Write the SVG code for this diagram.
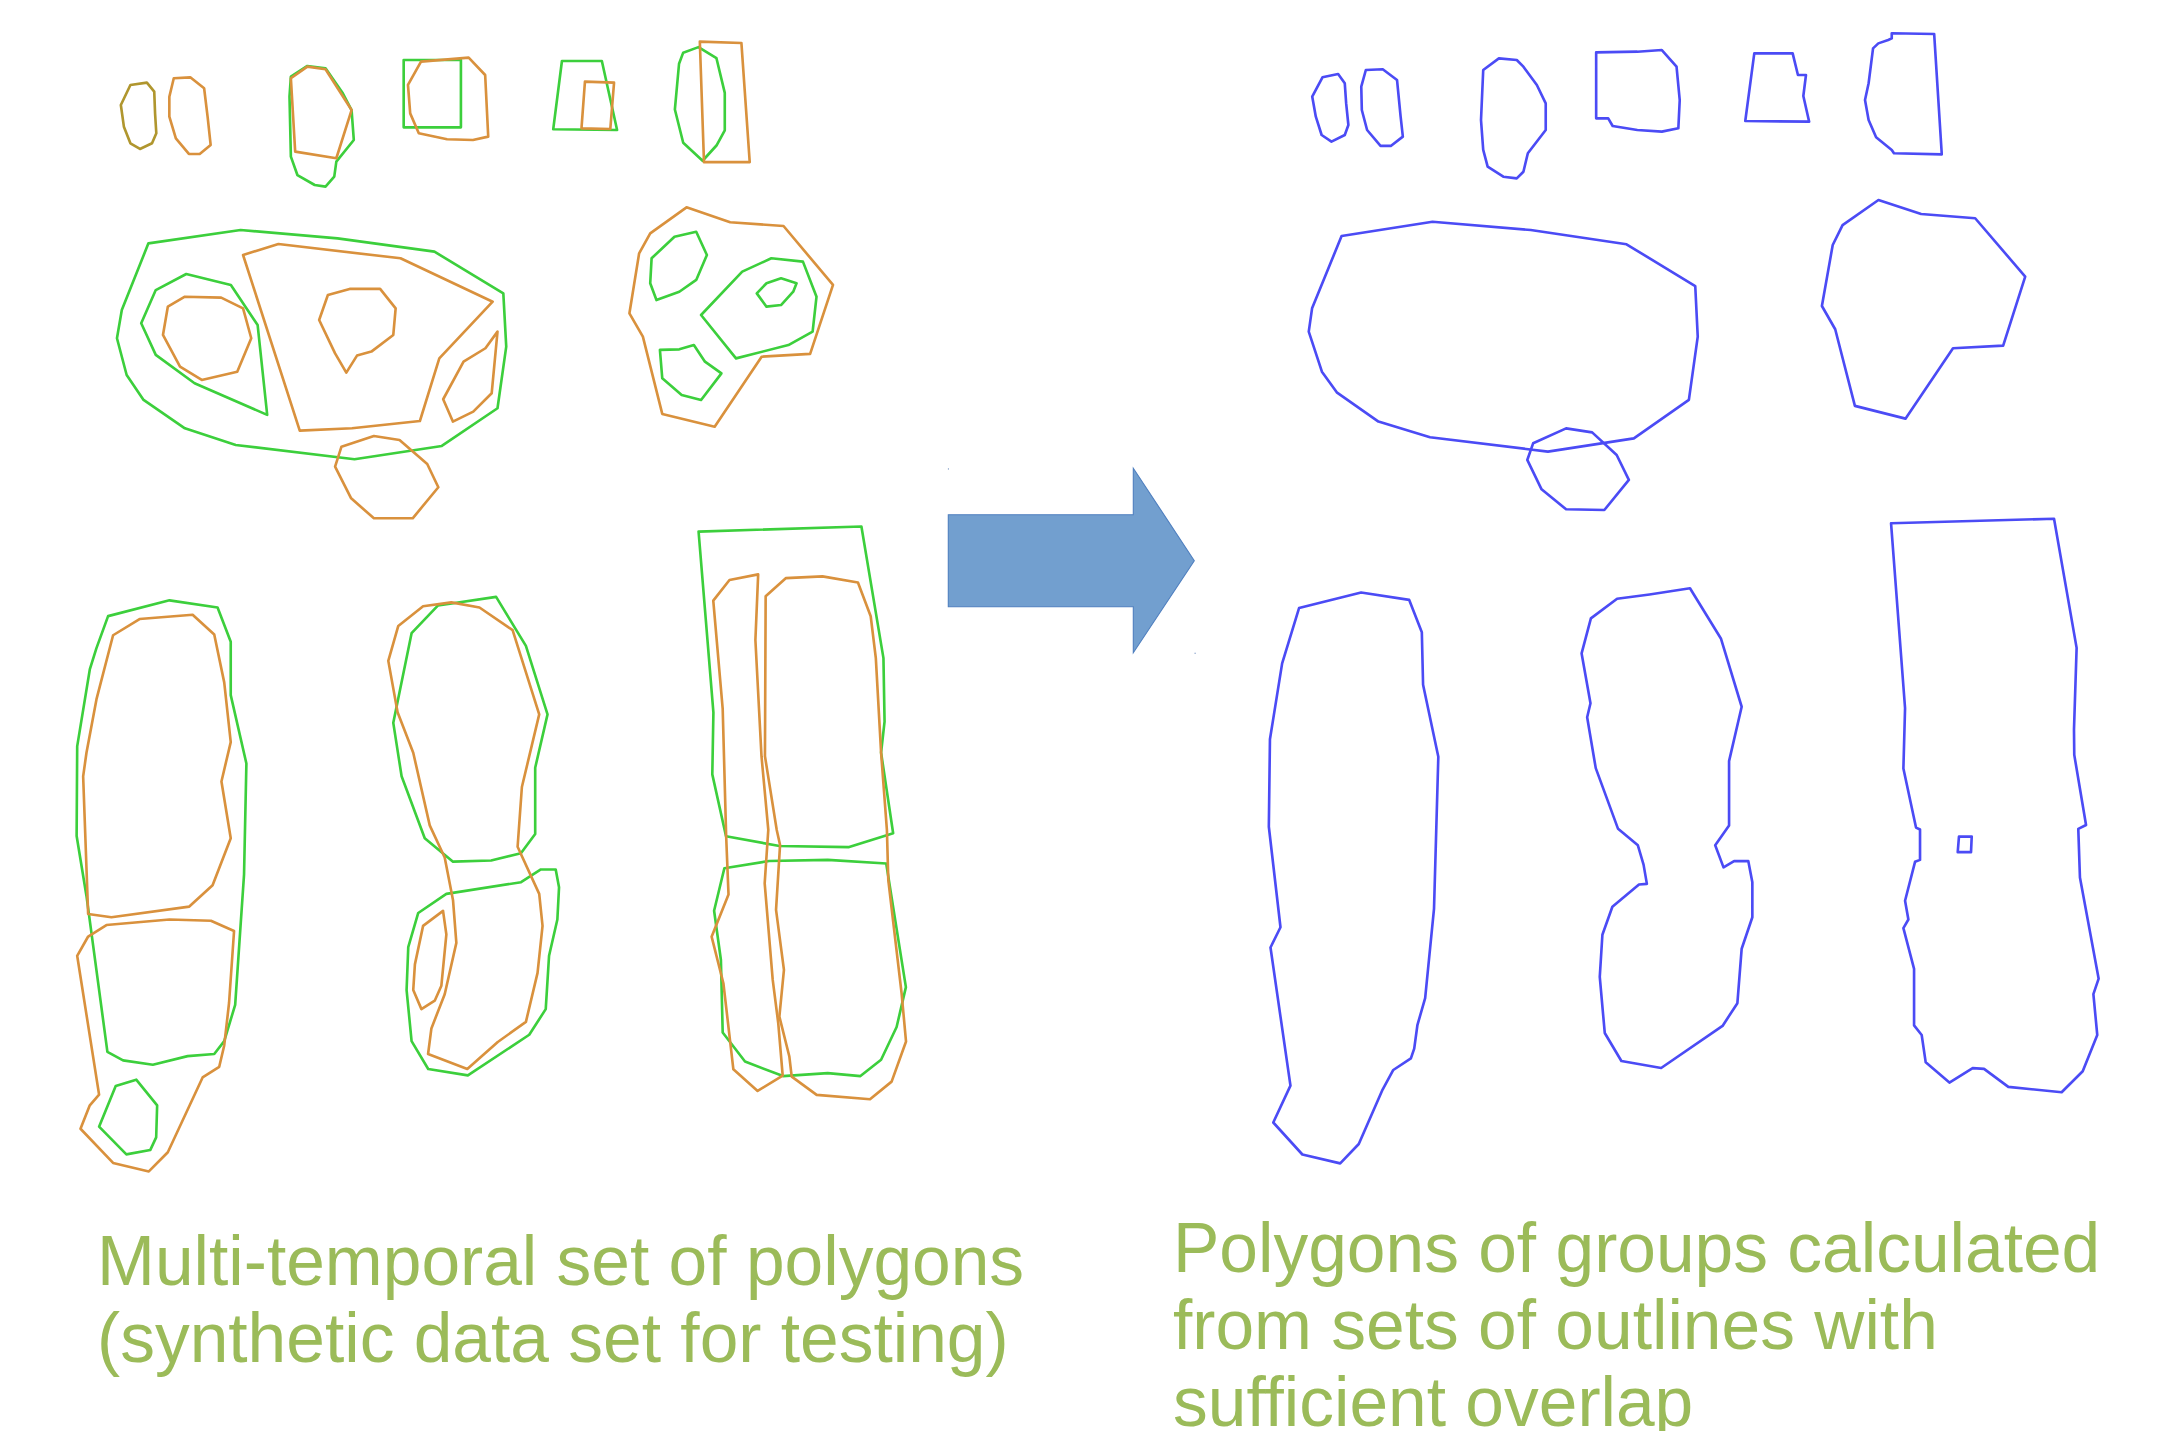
<svg xmlns="http://www.w3.org/2000/svg" width="2173" height="1431" viewBox="0 0 2173 1431">
<style>
.g{fill:none;stroke:#3ccf3c;stroke-width:1.9;stroke-linejoin:round}
.o{fill:none;stroke:#d9913d;stroke-width:1.9;stroke-linejoin:round}
.ol{fill:none;stroke:#b0962e;stroke-width:1.9;stroke-linejoin:round}
.b{fill:none;stroke:#4b4bf5;stroke-width:1.9;stroke-linejoin:round}
.t{font-family:"Liberation Sans",Arial,sans-serif;font-size:69.5px;fill:#9bbb59}
</style>
<rect width="2173" height="1431" fill="#ffffff"/>
<g transform="scale(1.3858)">
<g id="left-top-1"><polygon class="ol" points="94.1,61.3 106,59.6 111.3,66.1 111.9,81.8 112.8,96.2 109.7,103.4 101,107.5 94.1,103.4 89.4,91.4 87.2,75.8"/></g>
<g id="left-top-2"><polygon class="o" points="125.4,56.5 137.3,55.8 147.3,63.7 149.8,84.2 152,104.6 144.1,111.1 136.3,111.1 126.9,99.8 122.2,84.2 122.2,69.8"/></g>
<g id="left-top-3">
<polygon class="g" points="209.9,55.3 221.8,47.6 234.9,49.3 247.4,67.3 253.7,79.4 255.3,101 242.7,116.6 241.2,127.5 234.9,134.7 227.1,133.5 214.6,126.3 209.9,113 208.9,69.7"/>
<polygon class="o" points="209.9,56.5 221.8,48.1 234.9,50 253.7,79.4 242.7,114.2 213,109.4"/>
</g>
<g id="left-top-4">
<polygon class="g" points="291.3,43.3 332.6,43.3 332.6,91.9 291.3,91.9"/>
<polygon class="o" points="303.8,44.5 338.2,41.6 350.1,54.1 352.3,98.6 341.3,101 322.6,100.5 302.2,96.2 296,81.8 294.4,61.3"/>
</g>
<g id="left-top-5">
<polygon class="g" points="405.5,44 434.3,44 445.3,93.8 399.2,93.3"/>
<polygon class="o" points="422.1,58.9 443.1,59.6 440.4,93.1 419.6,92.6"/>
</g>
<g id="left-top-6">
<polygon class="g" points="493,38 504,34 517,42 523,67 523,94 517,105 507,116 493,103 487,79 490,46"/>
<polygon class="o" points="505,30 535,31 541,117 508,117"/>
</g>
<g id="left-mid-1">
<polygon class="g" points="107.1,175.6 173.6,166 243.6,172 313.5,181.6 363.2,211.7 365.3,250.1 359,294.6 318.8,321.8 255.8,331.4 170.1,321.1 133.4,309.1 103.6,288.6 91.4,270.6 84.4,244.1 87.9,223.7"/>
<polygon class="g" points="134.4,197.7 166.6,205.6 185.9,234.5 192.8,299.4 140.4,276.6 112.4,256.1 101.9,233.3 112.4,209.3"/>
<polygon class="o" points="133.4,214.1 159.6,214.8 175.4,222.5 181.3,244.1 171.2,268.2 145.6,274.2 129.9,264.6 117.6,241.7 121.1,221.3"/>
<polygon class="o" points="175.4,184 200.9,176.1 289,186.4 355.5,217.7 317,258.6 303,303.8 254,309 216.3,310.7"/>
<polygon class="o" points="236.6,212.9 252.3,208.5 274.3,208.5 285.5,222.5 283.8,241.7 268,253.7 257.6,256.6 249.9,268.9 241.8,255 230.3,230.9"/>
<polygon class="o" points="359,239.3 354.8,283.8 341.5,297 326.8,304.2 319.8,288.1 334.5,261 350.3,251.3"/>
<polygon class="o" points="246.4,322.3 269.8,314.6 288.3,317.5 308.3,334.8 316.3,351.6 297.8,374 269.8,374 253.4,359.6 241.8,336.7"/>
</g>
<g id="left-mid-2">
<polygon class="o" points="495.4,149.6 526.9,160.4 565.4,163.1 601.1,205.6 584.6,255.4 549.6,257.4 515.7,307.9 477.9,298.7 463.9,242.9 454.2,226.1 461.2,182.8 469.2,168.4"/>
<polygon class="g" points="486.7,170.8 502.4,167.2 510.1,184 502.4,202 490.2,210.5 473.7,216.5 469.2,204.4 470.2,186.4"/>
<polygon class="g" points="505.9,227.3 535.6,196 556.6,186.4 579.4,188.8 589.2,214.1 586.4,239.3 568.9,249 531.1,258.6"/>
<polygon class="g" points="553.1,204.4 563.6,200.8 574.8,204.4 572.4,210.5 563.6,220.1 553.1,221.3 546.1,211.7"/>
<polygon class="g" points="476.2,252.5 490.2,252.1 500.7,249 508.7,261 520.6,269.4 505.9,288.6 491.9,285 477.9,273"/>
</g>
<g id="left-bottom-1">
<polygon class="g" points="78,444.6 122.3,433.2 157,438.4 166.5,463.1 166.5,501.6 177.8,550.9 176.1,631.1 169.7,725.1 161.8,751.3 154.6,760.6 135.4,762.1 110.3,768.3 88.8,765.2 77.5,759 62.4,646.5 55.3,603.3 55.7,538.6 64.8,483.1 69.6,467.7"/>
<polygon class="o" points="81.6,458.4 100.7,446.7 139,443.6 154.6,457.8 161.8,492.4 166.5,535.5 159.8,563.9 166.5,604.9 153.4,638.8 136.6,654.2 80.4,661.9 63.6,659.5 60,560.2 62.4,543.2 69.6,504.7"/>
<polygon class="o" points="76.8,667.5 122.3,663.5 152.2,664.4 168.9,671.8 165.3,723.6 161.8,754.4 158.2,769.8 146.2,777.5 121.1,831.5 107.4,845.3 81.6,839.2 58.1,814.5 64.8,797.6 71.5,789.9 55.7,689.7 63.6,675.8"/>
<polygon class="g" points="83.5,783.7 98.3,779.1 113.4,797.6 112.7,820.7 108.4,829.9 91.2,833 71.5,813"/>
</g>
<g id="left-bottom-2">
<polygon class="g" points="297,456.9 316.1,436.9 358,430.7 379.5,466.1 395.1,515.5 386.2,554 386.2,601.8 375.9,615.7 354.4,620.9 326.9,621.8 306.5,604.9 289.8,560.2 283.8,521.6"/>
<polygon class="g" points="322.1,645 376,636.6 390.3,627.4 401,627.4 403.4,640.3 402.2,663.5 396.2,689.7 393.8,728.2 381.9,746.7 337.6,776 309,771.4 297,751.3 293.4,714.4 294.6,683.5 301.8,658.8"/>
<polygon class="o" points="287.4,451.7 305.3,437.5 325.7,434.7 346,438.4 369.9,454.7 389.1,515.5 376.6,567.9 373.5,611 389.1,645 391.5,668.1 387.9,702 379.5,737.4 359.2,751.9 337.2,771.4 308.9,760.6 311.3,742.1 320.9,717.4 329.3,680.4 326.9,649.6 320.9,618.8 310.1,595.6 298.2,543.2 286.9,513.9 280.2,476.9"/>
<polygon class="o" points="319.7,657.3 322.1,674.3 318.5,711.3 313.7,722.1 304.1,728.2 298.2,714.4 299.4,695.9 305.3,668.1"/>
</g>
<g id="left-bottom-3">
<polygon class="g" points="504.1,383.6 621.6,379.9 637.5,474.9 638.3,520.8 635.8,543.1 644.5,601.3 612.2,611.3 562.5,610.5 523.9,603.4 514,558.8 514.8,514.2"/>
<polygon class="g" points="522.7,626.5 555,621.3 597.3,620.5 639.5,623.1 653.7,712.3 647,741.1 635.8,764.7 620.9,776.5 597.3,774.4 565,776.5 537.6,766 521.5,745.1 520.2,692.6 515.3,657.2"/>
<polygon class="o" points="514.7,433.4 526.4,418.5 547.1,414.5 545.1,461.8 549.5,545.7 554.4,598.9 551.8,637.4 557.6,707.1 561.6,738.4 564.8,776.1 546.7,787.2 529.2,771.6 522,709.5 513.5,675.9 525.7,645.4 524,603.4 521.5,511.6"/>
<polygon class="o" points="552.5,430.3 567,417.2 593.5,415.9 619.1,420.3 628.3,444.7 632,474.9 635.8,543.1 640,599 641,635 650.6,716.8 653.8,751.6 643.4,780.5 627.8,793.2 589.3,790.1 571.3,776.9 569.6,762.4 562.4,733.6 565.7,699.9 560,656.6 562.9,609.7 560.5,598.9 552,545.7"/>
</g>
<g id="arrow">
<polygon points="684.3,371.4 817.8,371.4 817.8,337.9 861.8,404.6 817.8,471 817.8,437.8 684.3,437.8" fill="#729fcf" stroke="#4f7fbf" stroke-width="0.8"/>
<rect x="684" y="338" width="0.8" height="0.8" fill="#6f8fbf"/>
<rect x="862" y="471" width="0.8" height="0.8" fill="#6f8fbf"/>
</g>
<g id="right-top-1"><polygon class="b" points="954.3,55.8 965.6,53.4 970.4,60.1 971.4,74.6 973,90.2 970.4,97.4 960.8,102.2 953.7,97.4 949.5,84.2 946.9,69.7"/></g>
<g id="right-top-2"><polygon class="b" points="985.6,50.5 997.8,50 1008.1,57.7 1010.7,84.2 1012.3,98.6 1003.6,105.3 996.2,105.3 986.5,93.8 982.7,79.4 982.3,62.5"/></g>
<g id="right-top-3"><polygon class="b" points="1070.3,50.5 1081.6,42.1 1094.5,43.3 1099.3,48.1 1109,61.3 1115.4,74.6 1115.4,93.8 1102.5,110.6 1099.3,123.9 1094.5,128.7 1084.8,127.5 1073.5,120.2 1070.3,108.2 1068.7,86.6"/></g>
<g id="right-top-4"><polygon class="b" points="1151.8,37.8 1181.5,37.3 1199.2,36.1 1209.8,48.1 1212.1,72.2 1211.1,92.6 1199.2,95 1181.5,93.8 1163.7,90.9 1160.5,85.4 1151.8,85.4"/></g>
<g id="right-top-5"><polygon class="b" points="1265.9,38.5 1293.6,38.5 1297.4,54.1 1303.2,54.1 1301.3,69.3 1305.5,87.8 1259.4,87.3"/></g>
<g id="right-top-6"><polygon class="b" points="1365.1,24 1395.7,24.5 1401.2,111.4 1366.7,110.6 1365.1,108.2 1353.8,99.1 1348.4,86.6 1345.8,72.2 1348.4,60.1 1351.6,34.9 1355.4,31.3 1362.5,28.9 1365.1,27.7"/></g>
<g id="right-mid-1">
<polygon class="b" points="968.1,170.3 1033.7,160 1104.6,166 1173.7,176.3 1223.3,206.4 1225.1,242.9 1218.7,288.6 1179,316.3 1117,325.9 1031.9,315.5 994.7,304.2 964.6,283.1 953.9,268.2 944.4,239.3 946.8,222.5"/>
<polygon class="b" points="1106.3,319.9 1130.1,309.1 1148.9,312 1166.6,328.3 1175.4,346.3 1157.7,368 1130.1,367.5 1112.4,353.1 1102.1,331.9"/>
</g>
<g id="right-mid-2"><polygon class="b" points="1355.5,144.3 1386.3,154.4 1425.3,157.5 1461.4,199.6 1445.5,249.4 1409.3,251.3 1375,302.1 1338.5,292.9 1324.3,237.6 1314.7,220.8 1322.5,176.8 1329.6,162.4"/></g>
<g id="right-bottom-1"><polygon class="b" points="937.4,438.8 982.2,427.6 1016.9,432.9 1026,456.2 1026.9,494.1 1037.9,546.1 1034.8,655.6 1028.4,720.2 1022.8,739.8 1020.5,756.7 1018.1,763.7 1005.4,772.1 997.7,786.2 980.5,825.5 967.1,839.5 939.8,833.1 918.8,810 931.2,783.4 916.8,683.7 924,669.1 915.6,596.6 916.4,533.5 925.2,478.7"/></g>
<g id="right-bottom-2"><polygon class="b" points="1166.9,432.1 1190.3,429 1219.5,424.5 1241.8,460.7 1256.8,510 1247.7,549.2 1247.7,595.6 1237.7,610 1243.7,625.9 1251.3,621.4 1261.6,621.4 1264.5,636.6 1264.5,661.9 1256.8,684.6 1253.7,723.9 1243,740.3 1198.7,770.7 1170,765.6 1158,745.4 1154.4,704.9 1156.3,674.5 1163.5,654.3 1182.7,638.3 1188.4,637.8 1186,623.9 1181.9,610 1167.6,598.1 1151.5,554.3 1145.3,517.6 1147.7,507.5 1141.3,471.5 1148,446.2"/></g>
<g id="right-bottom-3">
<polygon class="b" points="1364.6,377.6 1482.2,374.3 1498.5,467.5 1496.6,526.5 1496.8,544.7 1505.3,595.3 1499.7,598.1 1500.9,633.2 1514.4,706.2 1510.6,717.4 1513.4,746.9 1502.9,773 1487.7,788.2 1449.2,784.3 1431.7,771.3 1423.5,770.8 1406.7,781.2 1389.6,766.6 1386.7,746.9 1381.2,739.9 1381.2,699.2 1373.5,669.7 1377.1,663.5 1374.7,650 1381.9,621.9 1385.5,620.5 1385.5,598.6 1382.6,597.2 1373.5,554.6 1374.7,511"/>
<polygon class="b" points="1413.6,603.7 1422.8,603.7 1422.3,614.9 1412.7,614.9"/>
</g>
</g>
<g id="caption-left">
<text class="t" x="97" y="1285">Multi-temporal set of polygons</text>
<text class="t" x="97" y="1362">(synthetic data set for testing)</text>
</g>
<g id="caption-right">
<text class="t" x="1173" y="1272">Polygons of groups calculated</text>
<text class="t" x="1173" y="1349">from sets of outlines with</text>
<text class="t" x="1173" y="1426">sufficient overlap</text>
</g>
</svg>
